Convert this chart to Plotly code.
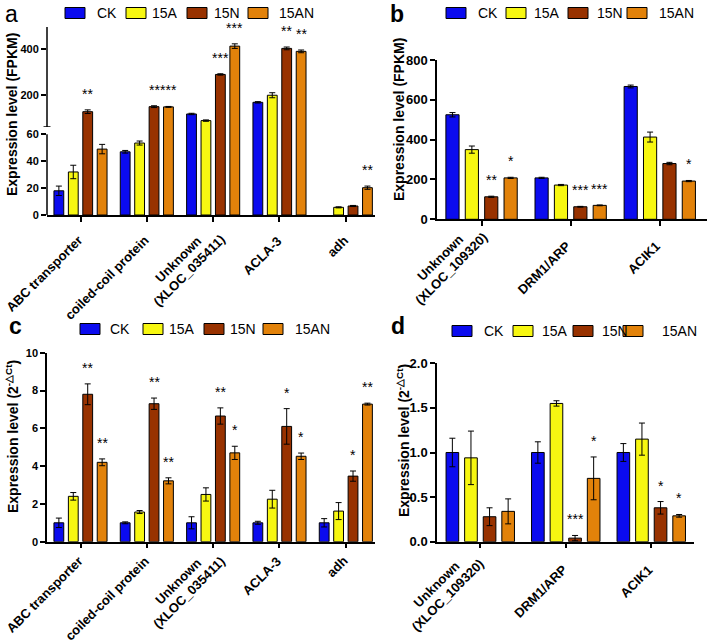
import plotly.graph_objects as go

W, H = 707, 642

groups = ["CK", "15A", "15N", "15AN"]
colors = ["#0b0bef", "#f7f711", "#983200", "#e2820a"]

# ---------------- panel a (RNA-seq, FPKM, broken axis) ----------------
a_cats = ["ABC transporter", "coiled-coil protein", "Unknown<br>(XLOC_035411)", "ACLA-3", "adh"]
a_ck = [18, 47, 117, 168, None]
a_15a = [32, 53.5, 88, 199, 5.7]
a_15n = [127, 149, 290, 404, 6.7]
a_15an = [49, 148, 414, 391, 20.3]
a_ck_err = [3.5, 1, 3, 3, 0]
a_15a_err = [5, 1.5, 3, 11, 0.4]
a_15n_err = [8, 4, 3, 6, 0.4]
a_15an_err = [3.5, 2, 10, 6, 1.2]
a_sig_15n = ["**", "**", "***", "**", ""]
a_sig_15an = ["", "***", "***", "**", "**"]
a_low_ticks = [0, 20, 40, 60]
a_up_ticks = [200, 400]

# ---------------- panel b (RNA-seq, FPKM) ----------------
b_cats = ["Unknown<br>(XLOC_109320)", "DRM1/ARP", "ACIK1"]
b_ck = [525, 208, 667]
b_15a = [350, 172, 413]
b_15n = [113, 63, 280]
b_15an = [208, 70, 192]
b_ck_err = [11, 3, 7]
b_15a_err = [18, 3, 25]
b_15n_err = [3, 2, 6]
b_15an_err = [3, 2, 3]
b_sig_15n = ["**", "***", ""]
b_sig_15an = ["*", "***", "*"]
b_ticks = [0, 200, 400, 600, 800]

# ---------------- panel c (qPCR) ----------------
c_cats = a_cats
c_ck = [1.0, 1.0, 1.0, 1.0, 1.0]
c_15a = [2.4, 1.57, 2.5, 2.25, 1.62]
c_15n = [7.8, 7.3, 6.65, 6.1, 3.47]
c_15an = [4.2, 3.22, 4.7, 4.52, 7.28]
c_ck_err = [0.25, 0.05, 0.32, 0.08, 0.22]
c_15a_err = [0.2, 0.08, 0.35, 0.47, 0.45]
c_15n_err = [0.55, 0.3, 0.43, 0.94, 0.27]
c_15an_err = [0.18, 0.16, 0.35, 0.17, 0.05]
c_sig_15n = ["**", "**", "**", "*", "*"]
c_sig_15an = ["**", "**", "*", "*", "**"]
c_ticks = [0, 2, 4, 6, 8, 10]

# ---------------- panel d (qPCR) ----------------
d_cats = b_cats
d_ck = [1.0, 1.0, 1.0]
d_15a = [0.94, 1.55, 1.15]
d_15n = [0.28, 0.04, 0.38]
d_15an = [0.34, 0.71, 0.29]
d_ck_err = [0.16, 0.12, 0.1]
d_15a_err = [0.3, 0.03, 0.18]
d_15n_err = [0.1, 0.03, 0.07]
d_15an_err = [0.14, 0.24, 0.015]
d_sig_15n = ["", "***", "*"]
d_sig_15an = ["", "*", "*"]
d_ticks = [0.0, 0.5, 1.0, 1.5, 2.0]
d_ticktext = ["0.0", "0.5", "1.0", "1.5", "2.0"]


def px(x):
    return x / W


def py(y):
    return 1 - y / H


BARGAP = 0.13
BARGROUPGAP = 0.32
slot = (1 - BARGAP) / 4
offsets = [(-1.5 + k) * slot for k in range(4)]

fig = go.Figure()


def add_bars(cats, series, errs, xa, ya):
    for name, col, vals, err in zip(groups, colors, series, errs):
        fig.add_trace(go.Bar(
            x=cats, y=vals, name=name, xaxis=xa, yaxis=ya,
            marker=dict(color=col, line=dict(color="black", width=1)),
            error_y=dict(type="data", array=err, color="black", thickness=1, width=3),
            showlegend=False,
        ))


a_series = [a_ck, a_15a, a_15n, a_15an]
a_errs = [a_ck_err, a_15a_err, a_15n_err, a_15an_err]
add_bars(a_cats, a_series, a_errs, "x", "y")
add_bars(a_cats, a_series, a_errs, "x", "y2")
add_bars(b_cats, [b_ck, b_15a, b_15n, b_15an], [b_ck_err, b_15a_err, b_15n_err, b_15an_err], "x2", "y3")
add_bars(c_cats, [c_ck, c_15a, c_15n, c_15an], [c_ck_err, c_15a_err, c_15n_err, c_15an_err], "x3", "y4")
add_bars(d_cats, [d_ck, d_15a, d_15n, d_15an], [d_ck_err, d_15a_err, d_15n_err, d_15an_err], "x4", "y5")

FONT = "Liberation Sans, Arial, sans-serif"
axis_common = dict(showgrid=False, zeroline=False, linecolor="black", linewidth=1.5,
                   ticks="outside", ticklen=5, tickwidth=1.5, tickcolor="black",
                   automargin=False)

# pixel geometry
A_LEFT, A_RIGHT = 47, 375
B_LEFT, B_RIGHT = 437, 707
D_LEFT, D_RIGHT = 437, 694
a_low_bot, a_low_top_px = 215, 127
a_up_top = 27
low_scale = (215 - 134.3) / 60.0
a_low_max = (a_low_bot - a_low_top_px) / low_scale
up_scale = (95 - 49.3) / 200.0
a_up_max = 60 + (a_low_top_px - a_up_top) / up_scale
B_BOT, B_TOP = 219.3, 60
C_BOT, C_TOP = 541.7, 352.7
D_BOT, D_TOP = 541.7, 363.3

fig.update_layout(
    width=W, height=H, margin=dict(l=0, r=0, t=0, b=0, autoexpand=False),
    paper_bgcolor="white", plot_bgcolor="white",
    barmode="group", bargap=BARGAP, bargroupgap=BARGROUPGAP,
    font=dict(family=FONT, color="black"),
    xaxis=dict(axis_common, domain=[px(A_LEFT), px(A_RIGHT)], anchor="y",
               range=[-0.505, 4.44], showticklabels=False, showline=True),
    yaxis=dict(axis_common, domain=[py(a_low_bot), py(a_low_top_px)], anchor="x",
               range=[0, a_low_max], tickvals=a_low_ticks, showline=False,
               tickfont=dict(family=FONT, size=11, color="black", weight="bold")),
    yaxis2=dict(axis_common, domain=[py(a_low_top_px), py(a_up_top)], anchor="x",
                range=[60, a_up_max], tickvals=a_up_ticks, showline=False,
                tickfont=dict(family=FONT, size=11, color="black", weight="bold")),
    xaxis2=dict(axis_common, domain=[px(B_LEFT), px(B_RIGHT)], anchor="y3",
                range=[-0.5, 2.53], showticklabels=False, showline=True),
    yaxis3=dict(axis_common, domain=[py(B_BOT), py(B_TOP)], anchor="x2",
                range=[0, 800], tickvals=b_ticks, showline=True,
                tickfont=dict(family=FONT, size=13, color="black", weight="bold")),
    xaxis3=dict(axis_common, domain=[px(A_LEFT), px(A_RIGHT)], anchor="y4",
                range=[-0.505, 4.44], showticklabels=False, showline=True),
    yaxis4=dict(axis_common, domain=[py(C_BOT), py(C_TOP)], anchor="x3",
                range=[0, 10], tickvals=c_ticks, showline=True,
                tickfont=dict(family=FONT, size=11, color="black", weight="bold")),
    xaxis4=dict(axis_common, domain=[px(D_LEFT), px(D_RIGHT)], anchor="y5",
                range=[-0.506, 2.5], showticklabels=False, showline=True),
    yaxis5=dict(axis_common, domain=[py(D_BOT), py(D_TOP)], anchor="x4",
                range=[0, 2.0], tickvals=d_ticks, ticktext=d_ticktext, showline=True,
                tickfont=dict(family=FONT, size=13, color="black", weight="bold")),
)

shapes = []
annotations = []

# broken axis lines for panel a
shapes.append(dict(type="line", xref="paper", yref="y", x0=px(A_LEFT), x1=px(A_LEFT), y0=0, y1=60,
                   line=dict(color="black", width=1.5)))
shapes.append(dict(type="line", xref="paper", yref="y2", x0=px(A_LEFT), x1=px(A_LEFT), y0=60, y1=a_up_max,
                   line=dict(color="black", width=1.5)))
shapes.append(dict(type="line", xref="paper", yref="y2", x0=px(A_LEFT - 3.5), x1=px(A_LEFT + 3.5), y0=60, y1=60,
                   line=dict(color="black", width=1.5)))

CAT_FONT = dict(family=FONT, size=13, color="black")
LINE_SP = 16


# rotated category labels
def add_cat_labels(cats, xref, axis_px, single, multi_center):
    for i, c in enumerate(cats):
        lines = c.split("<br>")
        if len(lines) == 1:
            xs, dy = single
            annotations.append(dict(
                x=i, xref=xref, y=py(axis_px + dy), yref="paper", text="<b>" + c + "</b>",
                textangle=-45, xanchor="right", yanchor="top", xshift=xs, showarrow=False,
                font=CAT_FONT))
        else:
            cx, cy = multi_center
            n = len(lines)
            for k, ln in enumerate(lines):
                off = (k - (n - 1) / 2) * LINE_SP * 0.7071
                annotations.append(dict(
                    x=i, xref=xref, y=py(axis_px + cy + off), yref="paper", text="<b>" + ln + "</b>",
                    textangle=-45, xanchor="center", yanchor="middle", xshift=cx + off,
                    showarrow=False, font=CAT_FONT))


add_cat_labels(a_cats, "x", a_low_bot, (8, 15), (-29.5, 50))
add_cat_labels(b_cats, "x2", B_BOT, (6, 16), (-35.5, 44))
add_cat_labels(c_cats, "x3", C_BOT, (8, 9), (-29.5, 45.5))
add_cat_labels(d_cats, "x4", D_BOT, (7, 18), (-38.5, 48))

# significance stars
STAR_SHIFT = 6


def add_stars(cats, vals_list, errs_list, sig_list, xref, yref_fn):
    for j, vals, errs, sigs in zip([2, 3], vals_list, errs_list, sig_list):
        for i, s in enumerate(sigs):
            if not s:
                continue
            top = vals[i] + errs[i]
            annotations.append(dict(
                x=i + offsets[j], y=top, xref=xref, yref=yref_fn(top), text=s,
                showarrow=False, yanchor="bottom", yshift=STAR_SHIFT,
                font=dict(family=FONT, size=14, color="black")))


add_stars(a_cats, [a_15n, a_15an], [a_15n_err, a_15an_err], [a_sig_15n, a_sig_15an], "x",
          lambda v: "y2" if v > 60 else "y")
add_stars(b_cats, [b_15n, b_15an], [b_15n_err, b_15an_err], [b_sig_15n, b_sig_15an], "x2", lambda v: "y3")
add_stars(c_cats, [c_15n, c_15an], [c_15n_err, c_15an_err], [c_sig_15n, c_sig_15an], "x3", lambda v: "y4")
add_stars(d_cats, [d_15n, d_15an], [d_15n_err, d_15an_err], [d_sig_15n, d_sig_15an], "x4", lambda v: "y5")

# custom legends
legend_specs = [
    # (swatch left x's, text x's, y-center)
    ([65, 126, 187, 248], [95, 150, 212, 277], 13),
    ([446, 506, 568, 627], [476, 532, 595, 657], 13),
    ([80, 143, 204, 263], [108, 167, 228, 293], 329),
    ([452, 513, 573, 623], [482, 540, 600, 660], 331),
]
for sw_x, tx_x, yc in legend_specs:
    for name, col, sx, tx in zip(groups, colors, sw_x, tx_x):
        shapes.append(dict(type="rect", xref="paper", yref="paper",
                           x0=px(sx), x1=px(sx + 20), y0=py(yc + 5.5), y1=py(yc - 5.5),
                           fillcolor=col, line=dict(color="black", width=1)))
        annotations.append(dict(x=px(tx), y=py(yc), xref="paper", yref="paper", text=name,
                                showarrow=False, xanchor="left", yanchor="middle",
                                font=dict(family=FONT, size=14, color="black")))

# axis titles
titles = [
    ("Expression level (FPKM)", 12, 115),
    ("Expression level (FPKM)", 399, 119),
    ("Expression level (2<sup>-△Ct</sup>)", 12, 437),
    ("Expression level (2<sup>-△Ct</sup>)", 403, 441),
]
for txt, tx, ty in titles:
    annotations.append(dict(x=px(tx), y=py(ty), xref="paper", yref="paper", text="<b>" + txt + "</b>",
                            textangle=-90, showarrow=False, xanchor="center", yanchor="middle",
                            font=dict(family=FONT, size=14, color="black")))

# panel letters
letters = [("a", 11, 14, "normal"), ("b", 397, 14, "bold"), ("c", 15, 326, "bold"), ("d", 398, 326, "bold")]
for t, lx, ly, wt in letters:
    annotations.append(dict(x=px(lx), y=py(ly), xref="paper", yref="paper", text=t,
                            showarrow=False, xanchor="center", yanchor="middle",
                            font=dict(family=FONT, size=23, color="black", weight=wt)))

fig.update_layout(shapes=shapes, annotations=annotations)
fig.write_html("out.html", config={"displayModeBar": False},
               post_script="document.body.style.margin='0';document.body.style.overflow='hidden';")
